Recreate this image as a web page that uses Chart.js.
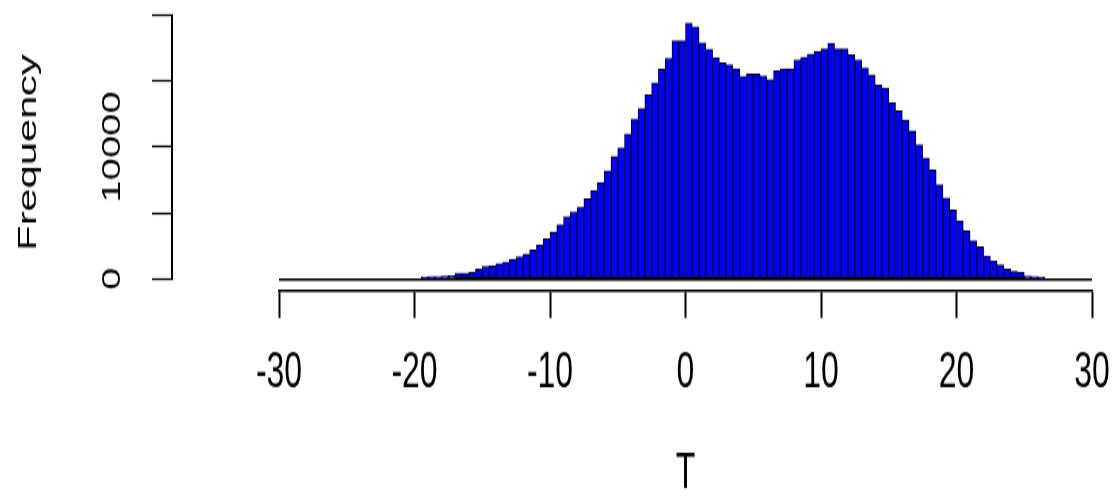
<!DOCTYPE html>
<html>
<head>
<meta charset="utf-8">
<script src="https://cdn.jsdelivr.net/npm/chart.js@4"></script>
<style>
  html, body { margin: 0; padding: 0; background: #fff; }
</style>
</head>
<body>
<!-- R output was stretched vertically, so the canvas is drawn short and shown tall -->
<canvas id="hist" width="1114" height="310" style="display:block;width:1114px;height:496px"></canvas>
<script>
// histogram of T, 0.5 wide bins starting at -19.5
const binStart = -19.5;
const binWidth = 0.5;
const counts = [
  150, 180, 200, 220, 260, 420, 430, 480, 720, 950,
  1020, 1170, 1290, 1480, 1670, 1890, 2200, 2580, 3030, 3560,
  4090, 4700, 5080, 5420, 6060, 6690, 7310, 8200, 9280, 9920,
  10980, 12100, 12930, 13940, 14850, 15890, 16720, 18030, 18030,
  19370, 19090, 17880, 17400, 16780, 16360, 16210, 15910, 15340, 15530,
  15530, 15380, 15110, 15760, 15910, 15910, 16590, 16800, 17050, 17220,
  17420, 17860, 17420, 17420, 16970, 16590, 15980, 15450, 14700, 14470,
  13330, 12730, 12050, 11210, 10150, 9170, 8260, 7120, 6140, 5230,
  4390, 3640, 2880, 2420, 1740, 1360, 1060, 760, 570, 490,
  230, 190, 150
];
const xTicks = [-30, -20, -10, 0, 10, 20, 30];
const yTicks = [0, 5000, 10000, 15000, 20000];
const yTickLabels = ['0', '', '10000', '', ''];
const xTitle = 'T';
const yTitle = 'Frequency';

const yMin = -833; // room between the bars and the x axis, like R's offset axis
const font = 'Liberation Sans, Arial, sans-serif';

const points = counts.map((c, i) => ({ x: binStart + binWidth * (i + 0.5), y: c }));

// R draws the y axis line only between the first and last tick
const yAxisLine = {
  id: 'yAxisLine',
  afterDraw(chart) {
    const s = chart.scales.y;
    const ctx = chart.ctx;
    ctx.save();
    ctx.strokeStyle = '#000';
    ctx.lineWidth = 2;
    ctx.beginPath();
    ctx.moveTo(s.right - 1, s.getPixelForValue(yTicks[0]));
    ctx.lineTo(s.right - 1, s.getPixelForValue(yTicks[yTicks.length - 1]));
    ctx.stroke();
    ctx.restore();
  }
};

new Chart(document.getElementById('hist'), {
  type: 'bar',
  data: {
    datasets: [{
      data: points,
      backgroundColor: '#0000FF',
      borderColor: '#000',
      borderWidth: 1,
      borderSkipped: false,
      barPercentage: 1,
      categoryPercentage: 1,
      yAxisID: 'y'
    }]
  },
  options: {
    responsive: false,
    devicePixelRatio: 1,
    animation: false,
    layout: { padding: { top: 9.4, right: 22, left: 0, bottom: 0 } },
    plugins: { legend: { display: false }, tooltip: { enabled: false } },
    scales: {
      x: {
        type: 'linear',
        min: -30, max: 30,
        offset: false,
        afterBuildTicks: s => { s.ticks = xTicks.map(v => ({ value: v })); },
        afterFit: s => { s.height = 128.75; s.paddingLeft = 0; s.paddingRight = 0; },
        border: { display: true, color: '#000', width: 1.4 },
        grid: { offset: false, drawOnChartArea: false, drawTicks: true, tickLength: 17.5, tickColor: '#000', tickWidth: 2 },
        ticks: { color: '#000', padding: 15, maxRotation: 0, autoSkip: false,
                 font: { family: font, size: 32, lineHeight: 1.2 },
                 callback: v => String(v) },
        title: { display: true, text: xTitle, color: '#000',
                 font: { family: font, size: 32, lineHeight: 0.8 }, padding: { top: 0, bottom: 1 } }
      },
      y: {
        type: 'linear', position: 'left', weight: 2,
        min: yMin, max: 20000,
        afterBuildTicks: s => { s.ticks = yTicks.map(v => ({ value: v })); },
        afterFit: s => { s.width = 173; s.paddingTop = 0; s.paddingBottom = 0; },
        border: { display: false },
        grid: { drawOnChartArea: false, drawTicks: true, tickLength: 21, tickColor: '#000', tickWidth: 1.2 },
        ticks: { color: '#000', padding: 4, minRotation: 90, maxRotation: 90, crossAlign: 'center', autoSkip: false,
                 font: { family: font, size: 25 },
                 callback: (v, i) => yTickLabels[i] },
        title: { display: true, text: yTitle, color: '#000',
                 font: { family: font, size: 26 }, padding: { top: 13, bottom: 0 } }
      },
      yBase: {
        type: 'linear', position: 'left', weight: 1, z: 1,
        min: yMin, max: 20000,
        afterBuildTicks: s => { s.ticks = yTicks.map(v => ({ value: v })); },
        afterFit: s => { s.width = 106; s.paddingTop = 0; s.paddingBottom = 0; },
        border: { display: false },
        grid: { drawOnChartArea: true, drawTicks: false, lineWidth: 1.5,
                color: c => (c.tick && c.tick.value === 0 ? '#000' : 'rgba(0,0,0,0)') },
        ticks: { display: false }
      }
    }
  },
  plugins: [yAxisLine]
});
</script>
</body>
</html>
